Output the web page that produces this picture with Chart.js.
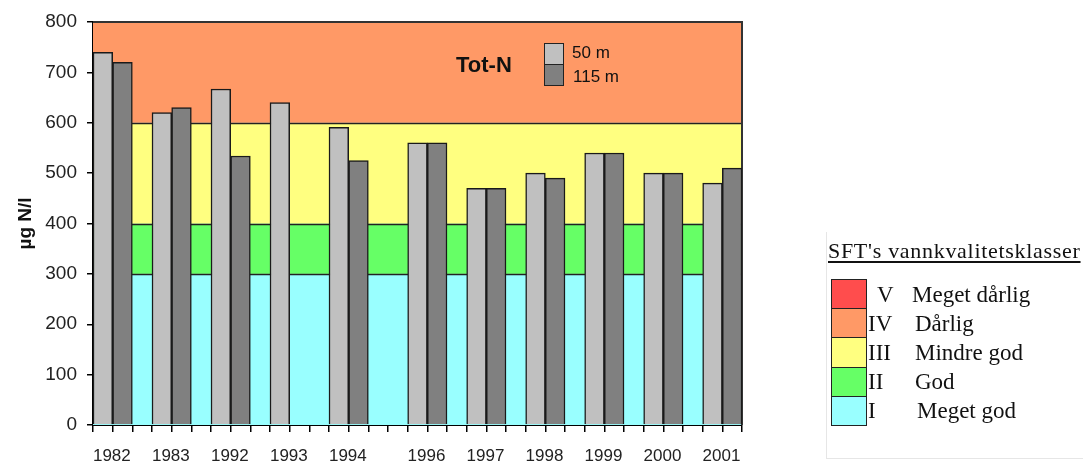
<!DOCTYPE html>
<html>
<head>
<meta charset="utf-8">
<script src="https://cdn.jsdelivr.net/npm/chart.js@4/dist/chart.umd.min.js"></script>
<style>
  body { margin: 0; background: #fff; }
  #wrap { position: relative; width: 1083px; height: 466px; }
  .txt { position: absolute; white-space: nowrap; color: #111; }
  .sans { font-family: "Liberation Sans", Arial, sans-serif; }
  .serif { font-family: "Liberation Serif", "Times New Roman", serif; font-size: 23px; line-height: 23px; }
  .sw { position: absolute; box-sizing: border-box; border: 1.5px solid #222; }
</style>
</head>
<body>
<div id="wrap">
  <canvas id="chart" width="1083" height="466"></canvas>
  <div id="inner"></div>
  <div id="classes"></div>
</div>
<script>
// ---------------- DATA ----------------
const years = ["1982", "1983", "1992", "1993", "1994", "1996", "1997", "1998", "1999", "2000", "2001"];
const depth50 = [740, 620, 667, 640, 591, 560, 470, 500, 540, 500, 480];
const depth115 = [720, 630, 534, null, 525, 560, 470, 490, 540, 500, 510];
// blank slots on the axis after each year's pair
const blanksAfter = [1, 1, 1, 1, 2, 1, 1, 1, 1, 1, 0];
const seriesNames = ["50 m", "115 m"];

const yMin = 0;
const yMax = 800;
const yStep = 100;

// quality classes (limits in µg N/l)
const classNumerals = ["V", "IV", "III", "II", "I"];
const classNames = ["Meget dårlig", "Dårlig", "Mindre god", "God", "Meget god"];
const classLimits = [0, 300, 400, 600, 800];
const classColors = ["#FF4D4D", "#FF9966", "#FFFF80", "#66FF66", "#99FFFF"];
const bandColors = ["#99FFFF", "#66FF66", "#FFFF80", "#FF9966"];

// ---------------- SLOTS ----------------
const labels = [];
const slot50 = [];
const slot115 = [];
years.forEach((y, i) => {
  labels.push(y); slot50.push(depth50[i]); slot115.push(null);
  labels.push(""); slot50.push(null); slot115.push(depth115[i]);
  for (let k = 0; k < blanksAfter[i]; k++) {
    labels.push(""); slot50.push(null); slot115.push(null);
  }
});

// background bands for the classes
const bandsPlugin = {
  id: "bands",
  beforeDatasetsDraw(chart) {
    const { ctx, chartArea: a, scales: { y } } = chart;
    ctx.save();
    for (let i = 0; i < bandColors.length; i++) {
      const top = y.getPixelForValue(classLimits[i + 1]);
      const bot = y.getPixelForValue(classLimits[i]);
      ctx.fillStyle = bandColors[i];
      ctx.fillRect(a.left, top, a.right - a.left, bot - top);
    }
    ctx.strokeStyle = "#222";
    ctx.lineWidth = 1.5;
    ctx.beginPath();
    [300, 400, 600].forEach(v => {
      const py = Math.round(y.getPixelForValue(v)) + 0.5;
      ctx.moveTo(a.left, py);
      ctx.lineTo(a.right, py);
    });
    ctx.stroke();
    ctx.strokeStyle = "#333";
    ctx.lineWidth = 2;
    ctx.beginPath();
    ctx.moveTo(a.left, a.top);
    ctx.lineTo(a.right, a.top);
    ctx.lineTo(a.right, a.bottom);
    ctx.stroke();
    ctx.restore();
  }
};

Chart.defaults.font.family = '"Liberation Sans", Arial, sans-serif';
Chart.defaults.color = "#222";

new Chart(document.getElementById("chart"), {
  type: "bar",
  data: {
    labels: labels,
    datasets: [
      {
        label: seriesNames[0],
        data: slot50,
        backgroundColor: "#C0C0C0",
        borderColor: "#1a1a1a",
        borderWidth: 1.5,
        grouped: false,
        barPercentage: 1,
        categoryPercentage: 1
      },
      {
        label: seriesNames[1],
        data: slot115,
        backgroundColor: "#808080",
        borderColor: "#1a1a1a",
        borderWidth: 1.5,
        grouped: false,
        barPercentage: 1,
        categoryPercentage: 1
      }
    ]
  },
  options: {
    responsive: false,
    animation: false,
    layout: { padding: { left: 0, top: 22, right: 341, bottom: 0 } },
    plugins: {
      legend: { display: false },
      tooltip: { enabled: false }
    },
    scales: {
      x: {
        offset: true,
        grid: { offset: true, drawOnChartArea: false, drawTicks: true, tickLength: 7, color: "#000", lineWidth: 1.5 },
        border: { color: "#000", width: 2 },
        ticks: {
          autoSkip: false,
          maxRotation: 0,
          labelOffset: 9,
          padding: 14,
          font: { size: 17 },
          color: "#222"
        },
        afterFit(scale) { scale.height = 41; }
      },
      y: {
        min: yMin,
        max: yMax,
        grid: { drawOnChartArea: false, drawTicks: true, tickLength: 6, color: "#000", lineWidth: 1.5 },
        border: { color: "#000", width: 2 },
        ticks: { stepSize: yStep, padding: 10, font: { size: 19 }, color: "#222" },
        title: {
          display: true,
          text: "µg N/l",
          font: { size: 19, weight: "bold" },
          color: "#111",
          padding: { top: 14, bottom: 0 }
        },
        afterFit(scale) { scale.width = 93; }
      }
    }
  },
  plugins: [bandsPlugin]
});

// ---------------- IN-PLOT LEGEND ----------------
const inner = document.getElementById("inner");
inner.innerHTML = `
  <div class="txt sans" style="left:456px;top:54px;font-size:22px;line-height:22px;font-weight:bold;">Tot-N</div>
  <div class="sw" style="left:544px;top:43px;width:20px;height:22px;background:#C0C0C0;"></div>
  <div class="sw" style="left:544px;top:64px;width:20px;height:22px;background:#808080;"></div>
  <div class="txt sans" style="left:572px;top:44px;font-size:17px;line-height:17px;">${seriesNames[0]}</div>
  <div class="txt sans" style="left:573px;top:68px;font-size:17px;line-height:17px;">${seriesNames[1]}</div>
`;

// ---------------- CLASS LEGEND ----------------
const classes = document.getElementById("classes");
let html = `
  <div style="position:absolute;left:826px;top:232px;width:257px;height:226px;border-left:1px solid #e6e6e6;border-bottom:1px solid #e6e6e6;"></div>
  <div class="txt serif" style="left:828px;top:240px;font-size:22px;line-height:22px;letter-spacing:0.7px;text-decoration:underline;text-underline-offset:3px;">SFT's vannkvalitetsklasser</div>
`;
const rowH = 29.2;
classNames.forEach((name, i) => {
  const top = 279 + i * rowH;
  const center = top + rowH / 2;
  const numLeft = classNumerals[i] === "V" ? 877 : 868;
  const nameLeft = i === 0 ? 912 : (i === 4 ? 917 : 915);
  html += `
    <div class="sw" style="left:831px;top:${top}px;width:36px;height:${rowH + 1}px;background:${classColors[i]};"></div>
    <div class="txt serif" style="left:${numLeft}px;top:${center - 11}px;">${classNumerals[i]}</div>
    <div class="txt serif" style="left:${nameLeft}px;top:${center - 11}px;">${name}</div>
  `;
});
classes.innerHTML = html;
</script>
</body>
</html>
